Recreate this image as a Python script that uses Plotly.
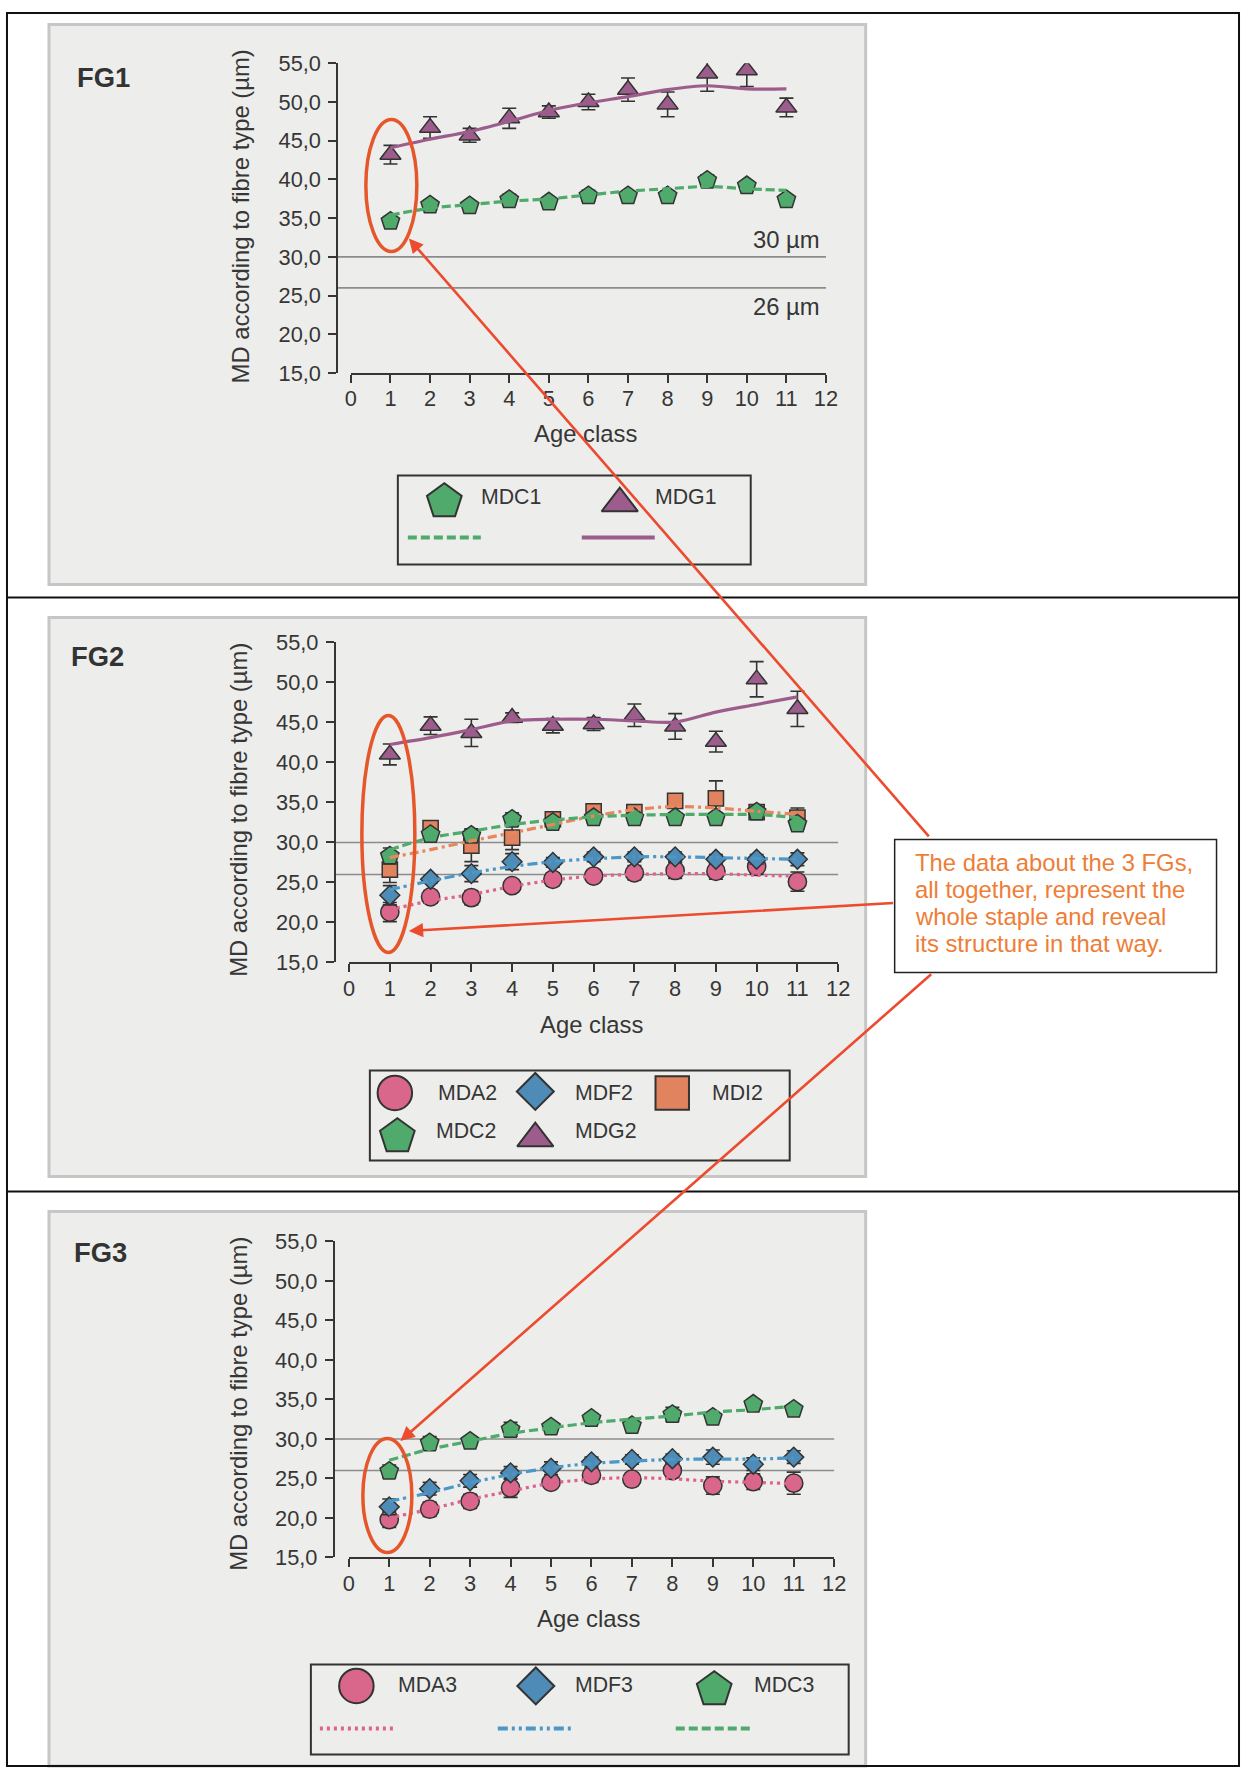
import plotly.graph_objects as go

# ---------------------------------------------------------------- data
AGE = list(range(1, 12))
X_TICKS = list(range(0, 13))
Y_TICKS = [15, 20, 25, 30, 35, 40, 45, 50, 55]
Y_TICK_TEXT = ["15,0", "20,0", "25,0", "30,0", "35,0", "40,0", "45,0", "50,0", "55,0"]
REF_LEVELS = [30, 26]

# FG1
MDC1 = [34.6, 36.7, 36.6, 37.4, 37.1, 37.9, 37.9, 37.9, 39.9, 39.2, 37.4]
MDC1_ERR = [0.6, 0.6, 0.5, 0.7, 0.5, 0.7, 0.6, 0.6, 0.7, 0.6, 0.6]
MDC1_FIT = [35.4, 36.3, 36.75, 37.2, 37.5, 38.0, 38.5, 38.8, 39.1, 38.8, 38.6]
MDG1 = [43.2, 46.7, 45.7, 47.9, 48.7, 50.0, 51.6, 49.7, 53.7, 54.1, 49.3]
MDG1_ERR = [1.2, 1.4, 0.9, 1.3, 0.8, 1.0, 1.5, 1.6, 2.3, 2.1, 1.2]
MDG1_FIT = [44.1, 45.2, 46.2, 47.5, 48.9, 49.9, 50.7, 51.6, 52.1, 51.7, 51.7]

# FG2
MDA2 = [21.3, 23.2, 23.1, 24.6, 25.4, 25.8, 26.2, 26.5, 26.4, 27.0, 25.1]
MDA2_ERR = [1.2, 0.8, 0.9, 0.7, 0.8, 0.7, 0.9, 1.0, 1.0, 1.0, 1.2]
MDA2_FIT = [21.6, 22.7, 23.5, 24.5, 25.3, 25.8, 26.0, 26.1, 26.1, 25.9, 25.8]
MDF2 = [23.4, 25.4, 26.1, 27.6, 27.5, 28.2, 28.2, 28.2, 27.9, 27.9, 27.9]
MDF2_ERR = [1.2, 0.5, 1.0, 1.0, 0.6, 0.6, 0.6, 0.6, 0.6, 0.6, 0.8]
MDF2_FIT = [24.1, 25.2, 26.2, 27.0, 27.6, 27.95, 28.2, 28.2, 28.1, 28.0, 27.9]
MDI2 = [26.6, 31.8, 29.6, 30.6, 32.9, 33.9, 33.8, 35.2, 35.5, 33.8, 33.1]
MDI2_ERR = [1.6, 0.6, 2.0, 1.5, 0.8, 0.8, 0.6, 0.8, 2.2, 0.7, 1.2]
MDI2_FIT = [28.1, 29.1, 30.2, 31.2, 32.25, 33.3, 34.1, 34.5, 34.3, 33.9, 33.5]
MDC2 = [28.3, 31.0, 30.9, 32.9, 32.5, 33.1, 33.1, 33.1, 33.1, 33.8, 32.3]
MDC2_ERR = [1.0, 0.5, 0.8, 0.8, 0.5, 0.6, 0.6, 0.6, 0.6, 0.6, 0.6]
MDC2_FIT = [29.1, 30.6, 31.4, 32.25, 32.8, 33.2, 33.4, 33.5, 33.5, 33.5, 33.1]
MDG2 = [41.0, 44.6, 43.7, 45.6, 44.6, 44.8, 45.9, 44.5, 42.6, 50.4, 46.7]
MDG2_ERR = [1.3, 1.1, 1.7, 0.6, 0.9, 0.8, 1.4, 1.6, 1.3, 2.2, 2.2]
MDG2_FIT = [42.25, 43.1, 44.1, 45.2, 45.4, 45.4, 45.2, 45.05, 46.3, 47.25, 48.2]

# FG3
MDA3 = [19.8, 21.1, 22.1, 23.8, 24.5, 25.4, 24.9, 26.0, 24.1, 24.6, 24.4]
MDA3_ERR = [1.0, 0.9, 0.9, 1.2, 0.7, 0.9, 0.8, 0.9, 1.1, 1.0, 1.4]
MDA3_FIT = [20.0, 21.1, 22.35, 23.4, 24.4, 24.9, 25.1, 24.95, 24.65, 24.5, 24.35]
MDF3 = [21.4, 23.7, 24.7, 25.7, 26.3, 27.1, 27.4, 27.5, 27.7, 26.8, 27.7]
MDF3_ERR = [1.0, 0.8, 0.8, 0.8, 0.8, 0.6, 0.6, 0.6, 0.9, 0.8, 0.8]
MDF3_FIT = [22.1, 23.2, 24.45, 25.5, 26.35, 26.9, 27.2, 27.4, 27.45, 27.45, 27.6]
MDC3 = [25.9, 29.5, 29.7, 31.2, 31.5, 32.6, 31.7, 33.1, 32.75, 34.4, 33.75]
MDC3_ERR = [0.8, 0.8, 0.6, 0.9, 0.5, 0.6, 0.5, 0.9, 0.6, 0.6, 0.5]
MDC3_FIT = [27.3, 28.7, 29.7, 30.7, 31.4, 32.05, 32.5, 32.9, 33.4, 33.7, 34.15]

NOTE_LINES = [
    "The data about the 3 FGs,",
    "all together, represent the",
    "whole staple and reveal",
    "its structure in that way.",
]

# ---------------------------------------------------------------- page geometry
W, H = 1252, 1780            # figure size
S = 0.986                    # scale at which the page ends up displayed
OX, OY = 6.0, 12.5           # where the figure's corner lands on the page
FONT = "Liberation Sans, Arial, Helvetica, sans-serif"
TXT = "#363636"
EDGE = "#333333"
PANEL_BG = "#EDEDEB"
GREEN = "#4FAA6C"
PURPLE = "#9C5C8C"
PINK = "#D9678B"
BLUE = "#4E8BB6"
ORANGE = "#E0835E"
RED = "#EC4B2E"
ELLIPSE = "#E5572B"
NOTE = "#EE7D36"


def fs(v):
    """Size in page pixels to figure pixels."""
    return v / S


STYLE = {
    "MDC": dict(symbol="pentagon", size=19, color=GREEN, line=GREEN, dash="9px,4px"),
    "MDG": dict(symbol="triangle-up", size=18, color=PURPLE, line=PURPLE, dash="solid"),
    "MDA": dict(symbol="circle", size=18, color=PINK, line="#E0608E", dash="3px,4px"),
    "MDF": dict(symbol="diamond", size=15, color=BLUE, line="#4B97C8", dash="10px,4px,3px,4px,3px,4px"),
    "MDI": dict(symbol="square", size=15, color=ORANGE, line="#E8875E", dash="9px,4px,3px,4px"),
}


def fx(px):
    """Page pixel (from the left) to paper fraction."""
    return (px - OX) / S / W


def fy(py):
    """Page pixel (from the top) to paper fraction."""
    return 1 - (py - OY) / S / H


def clampx(v):
    return min(max(v, 1.0 / W), 1 - 1.0 / W)


def clampy(v):
    return min(max(v, 1.0 / H), 1 - 1.0 / H)


def label(text, px, py, size, color=TXT, xanchor="center", **extra):
    """Text placed in page pixels."""
    d = dict(text=text, xref="paper", yref="paper", x=fx(px), y=fy(py), xanchor=xanchor, yanchor="middle",
             showarrow=False, font=dict(size=fs(size), color=color, family=FONT))
    d.update(extra)
    return d


# pixel geometry of the three panels
PANELS = [
    dict(name="FG1", box=(49, 25, 866, 585), x0=351.0, x12=826.3, y55=63.8, y15=373.6, yline=337.5,
         tag=(104, 78), ytitle=(241, 217), xtitle=(586, 434)),
    dict(name="FG2", box=(49, 618, 866, 1177), x0=349.2, x12=838.5, y55=643.0, y15=963.0, yline=335.0,
         tag=(98, 657), ytitle=(238.5, 810), xtitle=(592, 1025.5)),
    dict(name="FG3", box=(49, 1212, 866, 1770), x0=348.9, x12=834.5, y55=1242.0, y15=1558.0, yline=334.0,
         tag=(101, 1253), ytitle=(238.5, 1404), xtitle=(589, 1619.5)),
]

SERIES = [
    [("MDC", MDC1, MDC1_ERR, MDC1_FIT), ("MDG", MDG1, MDG1_ERR, MDG1_FIT)],
    [("MDA", MDA2, MDA2_ERR, MDA2_FIT), ("MDF", MDF2, MDF2_ERR, MDF2_FIT),
     ("MDI", MDI2, MDI2_ERR, MDI2_FIT), ("MDC", MDC2, MDC2_ERR, MDC2_FIT),
     ("MDG", MDG2, MDG2_ERR, MDG2_FIT)],
    [("MDA", MDA3, MDA3_ERR, MDA3_FIT), ("MDF", MDF3, MDF3_ERR, MDF3_FIT),
     ("MDC", MDC3, MDC3_ERR, MDC3_FIT)],
]

fig = go.Figure()
shapes = []
annotations = []
layout_axes = {}

# outer frame with two dividers
FL, FR = clampx(fx(5.5)), clampx(fx(1244))
FT, FB = clampy(fy(4.5)), clampy(fy(1776))
shapes.append(dict(type="rect", xref="paper", yref="paper", x0=FL, x1=FR, y0=FT, y1=FB,
                   line=dict(color="#111111", width=2), layer="above"))
for yy in (598, 1192):
    shapes.append(dict(type="line", xref="paper", yref="paper", x0=FL, x1=FR, y0=fy(yy), y1=fy(yy),
                       line=dict(color="#111111", width=2), layer="above"))

for i, p in enumerate(PANELS):
    k = "" if i == 0 else str(i + 1)
    xa, ya = "x" + k, "y" + k
    bx0, by0, bx1, by1 = p["box"]
    shapes.append(dict(type="rect", xref="paper", yref="paper", x0=fx(bx0), x1=fx(bx1), y0=fy(by0),
                       y1=clampy(fy(by1)),
                       fillcolor=PANEL_BG, line=dict(color="#C6C6C6", width=3), layer="below"))

    axis_common = dict(
        showline=True, linecolor=TXT, linewidth=2, ticks="outside", ticklen=8, tickwidth=2, tickcolor=TXT,
        showgrid=False, zeroline=False, tickfont=dict(size=fs(21.5), color=TXT, family=FONT),
        fixedrange=True,
    )
    layout_axes["xaxis" + k] = dict(
        domain=[fx(p["x0"]), fx(p["x12"])], range=[0, 12], anchor=ya, ticklabelstandoff=-3,
        tickmode="array", tickvals=X_TICKS, ticktext=[str(v) for v in X_TICKS], **axis_common,
    )
    layout_axes["yaxis" + k] = dict(
        domain=[fy(p["y15"]), fy(p["y55"])], range=[15, 55], anchor="free", position=fx(p["yline"]),
        ticklabelstandoff=3,
        tickmode="array", tickvals=Y_TICKS, ticktext=Y_TICK_TEXT, **axis_common,
    )

    # 30 and 26 µm reference lines, from the y axis line to the end of the x axis
    for lvl in REF_LEVELS:
        py = p["y15"] - (lvl - 15) * (p["y15"] - p["y55"]) / 40.0
        shapes.append(dict(type="line", xref="paper", yref="paper", x0=fx(p["yline"]), x1=fx(p["x12"]),
                           y0=fy(py), y1=fy(py), line=dict(color="#8C8C8C", width=1.6), layer="below"))

    for key, vals, err, fit in SERIES[i]:
        s = STYLE[key]
        fig.add_trace(go.Scatter(
            x=AGE, y=vals, mode="markers", xaxis=xa, yaxis=ya, showlegend=False, hoverinfo="skip",
            marker=dict(symbol=s["symbol"], size=fs(s["size"]), color=s["color"],
                        line=dict(color=EDGE, width=1.5)),
            error_y=dict(type="data", array=err, visible=True, color=EDGE, thickness=1.6, width=7),
        ))
    for key, vals, err, fit in SERIES[i]:
        s = STYLE[key]
        fig.add_trace(go.Scatter(
            x=AGE, y=fit, mode="lines", xaxis=xa, yaxis=ya, showlegend=False, hoverinfo="skip",
            line=dict(color=s["line"], width=3.2, dash=s["dash"], shape="spline", smoothing=0.8),
        ))

    annotations.append(label("<b>%s</b>" % p["name"], p["tag"][0], p["tag"][1], 27, color="#333333"))
    annotations.append(label("MD according to fibre type (µm)", p["ytitle"][0], p["ytitle"][1], 23.5,
                             textangle=-90))
    annotations.append(label("Age class", p["xtitle"][0], p["xtitle"][1], 23.5))

# threshold labels in the first panel
annotations.append(dict(text="30 µm", xref="paper", yref="y", x=fx(822), y=REF_LEVELS[0], xanchor="right",
                        yanchor="bottom", yshift=2, showarrow=False,
                        font=dict(size=fs(23.5), color=TXT, family=FONT)))
annotations.append(dict(text="26 µm", xref="paper", yref="y", x=fx(822), y=REF_LEVELS[1], xanchor="right",
                        yanchor="top", yshift=-3, showarrow=False,
                        font=dict(size=fs(23.5), color=TXT, family=FONT)))

# ---------------------------------------------------------------- legend boxes
# overlay axis in page pixels for the legend keys
layout_axes["xaxis4"] = dict(domain=[0, 1], range=[OX, OX + S * W], visible=False, fixedrange=True,
                             anchor="y4")
layout_axes["yaxis4"] = dict(domain=[0, 1], range=[OY + S * H, OY], visible=False, fixedrange=True,
                             anchor="x4")

LEGEND_BOXES = [(398, 476, 751, 565), (370, 1071, 790, 1161), (311, 1665, 849, 1755)]
for (a, b, c, d) in LEGEND_BOXES:
    shapes.append(dict(type="rect", xref="paper", yref="paper", x0=fx(a), x1=fx(c), y0=fy(b), y1=fy(d),
                       line=dict(color="#333333", width=2), layer="above"))

LEGEND_KEYS = [
    # key, label, marker centre, marker size, label centre, line sample (x0, x1, y) or None
    ("MDC", "MDC1", (444.5, 502), 36, (511.5, 498), (408, 481, 538)),
    ("MDG", "MDG1", (620, 504), 31, (686.5, 498), (582, 655, 538)),
    ("MDA", "MDA2", (395, 1093.5), 34, (467.5, 1093.5), None),
    ("MDF", "MDF2", (535.5, 1092), 28, (604.5, 1093.5), None),
    ("MDI", "MDI2", (672.5, 1093.5), 33, (738, 1093.5), None),
    ("MDC", "MDC2", (397.5, 1137), 36, (466, 1132), None),
    ("MDG", "MDG2", (535.5, 1139), 31, (606.5, 1132), None),
    ("MDA", "MDA3", (356.5, 1686.5), 34, (427.5, 1686), (320, 395, 1729)),
    ("MDF", "MDF3", (536, 1686.5), 28, (604, 1686), (498, 573.5, 1729)),
    ("MDC", "MDC3", (714.5, 1690), 36, (784, 1686), (676, 751.5, 1729)),
]
for key, text, (mx, my), msize, (lx, ly), sample in LEGEND_KEYS:
    s = STYLE[key]
    fig.add_trace(go.Scatter(
        x=[mx], y=[my], mode="markers", xaxis="x4", yaxis="y4", showlegend=False, hoverinfo="skip",
        marker=dict(symbol=s["symbol"], size=fs(msize), color=s["color"], line=dict(color=EDGE, width=2)),
    ))
    annotations.append(label(text, lx, ly, 21))
    if sample:
        shapes.append(dict(type="line", xref="paper", yref="paper", x0=fx(sample[0]), x1=fx(sample[1]),
                           y0=fy(sample[2]), y1=fy(sample[2]),
                           line=dict(color=s["line"], width=4, dash=s["dash"]), layer="above"))

# ---------------------------------------------------------------- highlights and note
ELLIPSES = [(366, 120, 417, 252), (362, 716, 415, 953), (363, 1439, 412, 1553)]
for (a, b, c, d) in ELLIPSES:
    shapes.append(dict(type="circle", xref="paper", yref="paper", x0=fx(a), x1=fx(c), y0=fy(b), y1=fy(d),
                       line=dict(color=ELLIPSE, width=3.5), layer="above"))

NOTE_BOX = (895, 840, 1217, 973)
shapes.append(dict(type="rect", xref="paper", yref="paper", x0=fx(NOTE_BOX[0]), x1=fx(NOTE_BOX[2]),
                   y0=fy(NOTE_BOX[1]), y1=fy(NOTE_BOX[3]), fillcolor="white",
                   line=dict(color="#222222", width=1.5), layer="above"))
for j, line in enumerate(NOTE_LINES):
    annotations.append(label(line, 913, 863.5 + 26.7 * j, 23.5, color=NOTE, xanchor="left"))

ARROWS = [((930.5, 838.5), (409, 239)), ((895, 903.5), (409, 931.5)), ((933, 973.5), (400.5, 1441.5))]
for (tx, ty), (hx, hy) in ARROWS:
    annotations.append(dict(text="", xref="x4", yref="y4", axref="x4", ayref="y4", x=hx, y=hy, ax=tx, ay=ty,
                            showarrow=True, arrowhead=2, arrowsize=1.1, arrowwidth=2.6, arrowcolor=RED,
                            standoff=0, startstandoff=0))

fig.update_layout(
    width=W, height=H, margin=dict(l=0, r=0, t=0, b=0),
    paper_bgcolor="white", plot_bgcolor="rgba(0,0,0,0)",
    font=dict(family=FONT, color=TXT),
    showlegend=False, shapes=shapes, annotations=annotations,
    **layout_axes,
)

fig.write_html("out.html")
